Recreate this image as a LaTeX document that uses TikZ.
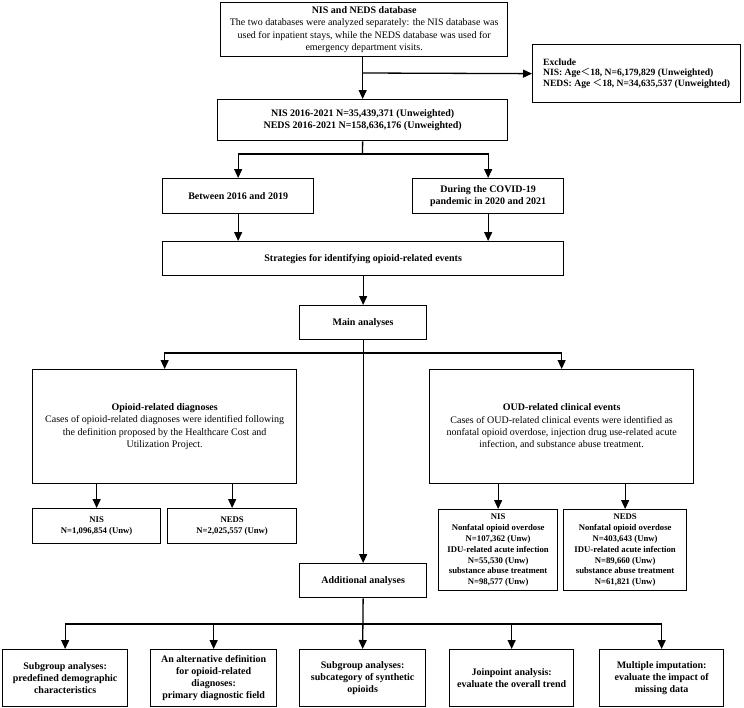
\documentclass[tikz,border=0pt]{standalone}
\usepackage{fontspec}
\setmainfont{Liberation Serif}
\newfontfamily\cjk{Noto Sans CJK SC}
\usetikzlibrary{arrows.meta}
\tikzset{
  box/.style={draw, line width=1.3pt, fill=white, align=center, inner sep=0pt, anchor=north west,
    font=\bfseries\fontsize{10}{12}\selectfont},
  smallbox/.style={box, font=\bfseries\fontsize{8.7}{10.9}\selectfont},
  plain/.style={font=\fontsize{10}{12.4}\selectfont},
  arr/.style={-{Triangle[length=9pt,width=8pt]}, line width=1.3pt},
  ln/.style={line width=1.3pt}
}
\begin{document}
\begin{tikzpicture}[x=1pt,y=-1pt]
\useasboundingbox (0,0) rectangle (744,707);
% nodes
\node[box, plain, minimum width=287, minimum height=54] (top) at (220,2)
  {\textbf{NIS and NEDS database}\\The two databases were analyzed separately: the NIS database was\\used for inpatient stays, while the NEDS database was used for\\emergency department visits.};
\node[box, align=left, minimum width=208, minimum height=58, font=\bfseries\fontsize{9.6}{10.8}\selectfont] (exc) at (532,44)
  {Exclude\\NIS: Age{\cjk\mdseries ＜}18, N=6,179,829 (Unweighted)\\NEDS: Age {\cjk\mdseries ＜}18, N=34,635,537 (Unweighted)};
\node[box, minimum width=290, minimum height=41] (nis) at (217,99)
  {NIS 2016-2021 N=35,439,371 (Unweighted)\\NEDS 2016-2021 N=158,636,176 (Unweighted)};
\node[box, minimum width=151, minimum height=35] (between) at (162,178) {Between 2016 and 2019};
\node[box, minimum width=151, minimum height=35] (covid) at (412,178) {During the COVID-19\\pandemic in 2020 and 2021};
\node[box, minimum width=401, minimum height=34] (strat) at (162,241) {Strategies for identifying opioid-related events};
\node[box, minimum width=127, minimum height=34] (main) at (299,305) {Main analyses};
\node[box, plain, minimum width=264, minimum height=114] (opi) at (32,369)
  {\textbf{Opioid-related diagnoses}\\Cases of opioid-related diagnoses were identified following\\the definition proposed by the Healthcare Cost and\\Utilization Project.};
\node[box, plain, minimum width=264, minimum height=114] (oud) at (429,369)
  {\textbf{OUD-related clinical events}\\Cases of OUD-related clinical events were identified as\\nonfatal opioid overdose, injection drug use-related acute\\infection, and substance abuse treatment.};
\node[smallbox, minimum width=128, minimum height=35] (dnis) at (32,508) {NIS\\N=1,096,854 (Unw)};
\node[smallbox, minimum width=129, minimum height=35] (dneds) at (167,508) {NEDS\\N=2,025,557 (Unw)};
\node[smallbox, minimum width=119, minimum height=81] (onis) at (438,509)
  {NIS\\Nonfatal opioid overdose\\N=107,362 (Unw)\\IDU-related acute infection\\N=55,530 (Unw)\\substance abuse treatment\\N=98,577 (Unw)};
\node[smallbox, minimum width=123, minimum height=81] (oneds) at (563,509)
  {NEDS\\Nonfatal opioid overdose\\N=403,643 (Unw)\\IDU-related acute infection\\N=89,660 (Unw)\\substance abuse treatment\\N=61,821 (Unw)};
\node[box, minimum width=127, minimum height=34] (add) at (299,563) {Additional analyses};
\node[box, minimum width=125, minimum height=57] (b1) at (2,649) {Subgroup analyses:\\predefined demographic\\characteristics};
\node[box, minimum width=126, minimum height=57] (b2) at (150,649) {An alternative definition\\for opioid-related\\diagnoses:\\primary diagnostic field};
\node[box, minimum width=126, minimum height=57] (b3) at (299,649) {Subgroup analyses:\\subcategory of synthetic\\opioids};
\node[box, minimum width=124, minimum height=57] (b4) at (449,649) {Joinpoint analysis:\\evaluate the overall trend};
\node[box, minimum width=124, minimum height=57] (b5) at (599,649) {Multiple imputation:\\evaluate the impact of\\missing data};
% junctions
\coordinate (e1) at (362.5,73);
\coordinate (n1) at (362.5,154);
\coordinate (m1) at (362.5,353);
\coordinate (a1) at (362.5,624);
% connectors
\draw[arr] (nis.north |- top.south) -- (nis.north);
\draw[arr] (e1) -- (exc.west);
\draw[ln] (nis.south) -- (n1);
\draw[arr] (n1) -| (between.north);
\draw[arr] (n1) -| (covid.north);
\draw[arr] (between.south) -- (between.south |- strat.north);
\draw[arr] (covid.south) -- (covid.south |- strat.north);
\draw[arr] (main.north |- strat.south) -- (main.north);
\draw[arr] (main.south) -- (add.north);
\draw[arr] (m1) -| (opi.north);
\draw[arr] (m1) -| (oud.north);
\draw[arr] (opi.south -| dnis.north) -- (dnis.north);
\draw[arr] (opi.south -| dneds.north) -- (dneds.north);
\draw[arr] (oud.south -| onis.north) -- (onis.north);
\draw[arr] (oud.south -| oneds.north) -- (oneds.north);
\draw[arr] (add.south) -- (b3.north);
\draw[arr] (a1) -| (b1.north);
\draw[arr] (a1) -| (b2.north);
\draw[arr] (a1) -| (b4.north);
\draw[arr] (a1) -| (b5.north);
\end{tikzpicture}
\end{document}
